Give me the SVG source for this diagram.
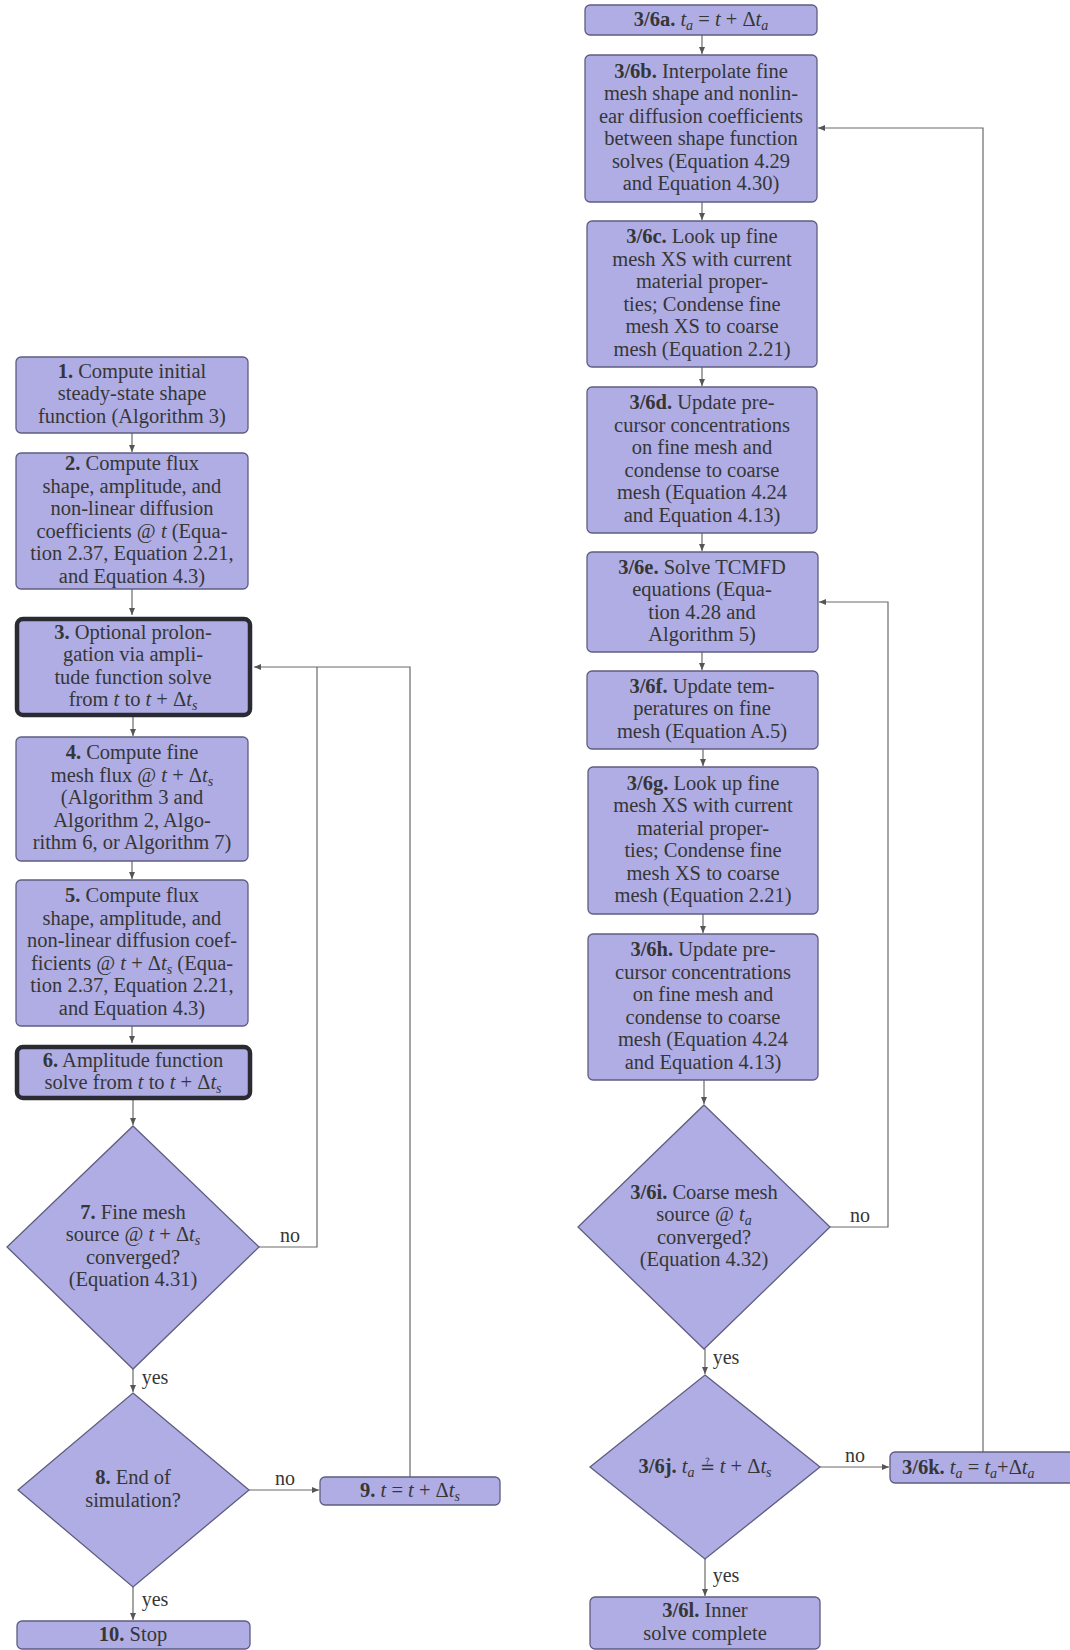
<svg xmlns="http://www.w3.org/2000/svg" width="1070" height="1650" viewBox="0 0 1070 1650">
<defs>
<style>
.box{fill:#afade4;stroke:#5e5d80;stroke-width:1.3}
.thick{fill:#afade4;stroke:#2a2a33;stroke-width:4.5}
.t{font-family:"Liberation Serif","Times New Roman",serif;font-size:20.5px;fill:#363636;text-anchor:middle}
.ts{font-family:"Liberation Serif","Times New Roman",serif;font-size:20.5px;fill:#363636;text-anchor:start}
.lbl{font-family:"Liberation Serif","Times New Roman",serif;font-size:20px;fill:#363636;text-anchor:middle}
.b{font-weight:bold}
.i{font-style:italic}
.s{font-style:italic;font-size:14px}
.qe{font-family:"DejaVu Serif","Liberation Serif",serif;font-size:18px}
.c{fill:none;stroke:#6a6a6a;stroke-width:1.2}
.a{marker-end:url(#ah)}
</style>
<marker id="ah" markerWidth="8" markerHeight="6" refX="7" refY="3" orient="auto" markerUnits="userSpaceOnUse">
<path d="M0,0 L7,3 L0,6 z" fill="#555"/>
</marker>
</defs>
<rect x="0" y="0" width="1070" height="1650" fill="#ffffff"/>

<g id="connectors">
<path class="c a" d="M132,433 V452"/>
<path class="c a" d="M132,589 V615"/>
<path class="c a" d="M133,717 V736"/>
<path class="c a" d="M132,861 V879"/>
<path class="c a" d="M132,1026 V1043"/>
<path class="c a" d="M133,1100 V1125"/>
<path class="c a" d="M133,1369 V1392"/>
<path class="c a" d="M133,1587 V1620"/>
<path class="c" d="M259,1247 H317 V667"/>
<path class="c a" d="M249,1490 H319"/>
<path class="c a" d="M410,1477 V667 H254"/>
<path class="c a" d="M702,35 V54"/>
<path class="c a" d="M702,202 V220"/>
<path class="c a" d="M702,367 V386"/>
<path class="c a" d="M702,533 V551"/>
<path class="c a" d="M702,652 V670"/>
<path class="c a" d="M703,749 V766"/>
<path class="c a" d="M703,914 V933"/>
<path class="c a" d="M704,1080 V1104"/>
<path class="c a" d="M705,1349 V1374"/>
<path class="c a" d="M705,1559 V1596"/>
<path class="c a" d="M830,1227 H888 V602 H819"/>
<path class="c a" d="M820,1467 H889"/>
<path class="c a" d="M983,1452 V128 H818"/>
<text class="lbl" x="290" y="1242">no</text>
<text class="lbl" x="285" y="1485">no</text>
<text class="lbl" x="860" y="1222">no</text>
<text class="lbl" x="855" y="1462">no</text>
<text class="lbl" x="155" y="1384">yes</text>
<text class="lbl" x="155" y="1606">yes</text>
<text class="lbl" x="726" y="1364">yes</text>
<text class="lbl" x="726" y="1582">yes</text>
</g>

<g id="n1">
<rect class="box" x="16" y="357" width="232" height="76" rx="5"/>
<text class="t" x="132" y="377.5"><tspan class="b">1.</tspan> Compute initial</text>
<text class="t" x="132" y="400">steady-state shape</text>
<text class="t" x="132" y="422.5">function (Algorithm 3)</text>
</g>

<g id="n2">
<rect class="box" x="16" y="453" width="232" height="136" rx="5"/>
<text class="t" x="132" y="470"><tspan class="b">2.</tspan> Compute flux</text>
<text class="t" x="132" y="492.5">shape, amplitude, and</text>
<text class="t" x="132" y="515">non-linear diffusion</text>
<text class="t" x="132" y="537.5">coefficients @ <tspan class="i">t</tspan> (Equa-</text>
<text class="t" x="132" y="560">tion 2.37, Equation 2.21,</text>
<text class="t" x="132" y="582.5">and Equation 4.3)</text>
</g>

<g id="n3">
<rect class="thick" x="17" y="619" width="233" height="96" rx="6"/>
<text class="t" x="133" y="638.5"><tspan class="b">3.</tspan> Optional prolon-</text>
<text class="t" x="133" y="661">gation via ampli-</text>
<text class="t" x="133" y="683.5">tude function solve</text>
<text class="t" x="133" y="706">from <tspan class="i">t</tspan> to <tspan class="i">t</tspan> + Δ<tspan class="i">t</tspan><tspan class="s" dy="4">s</tspan></text>
</g>

<g id="n4">
<rect class="box" x="16" y="737" width="232" height="124" rx="5"/>
<text class="t" x="132" y="759"><tspan class="b">4.</tspan> Compute fine</text>
<text class="t" x="132" y="781.5">mesh flux @ <tspan class="i">t</tspan> + Δ<tspan class="i">t</tspan><tspan class="s" dy="4">s</tspan></text>
<text class="t" x="132" y="804">(Algorithm 3 and</text>
<text class="t" x="132" y="826.5">Algorithm 2, Algo-</text>
<text class="t" x="132" y="849">rithm 6, or Algorithm 7)</text>
</g>

<g id="n5">
<rect class="box" x="16" y="880" width="232" height="146" rx="5"/>
<text class="t" x="132" y="902"><tspan class="b">5.</tspan> Compute flux</text>
<text class="t" x="132" y="924.5">shape, amplitude, and</text>
<text class="t" x="132" y="947">non-linear diffusion coef-</text>
<text class="t" x="132" y="969.5">ficients @ <tspan class="i">t</tspan> + Δ<tspan class="i">t</tspan><tspan class="s" dy="4">s</tspan><tspan dy="-4"> (Equa-</tspan></text>
<text class="t" x="132" y="992">tion 2.37, Equation 2.21,</text>
<text class="t" x="132" y="1014.5">and Equation 4.3)</text>
</g>

<g id="n6">
<rect class="thick" x="17" y="1047" width="233" height="51" rx="6"/>
<text class="t" x="133" y="1066.5"><tspan class="b">6.</tspan> Amplitude function</text>
<text class="t" x="133" y="1089">solve from <tspan class="i">t</tspan> to <tspan class="i">t</tspan> + Δ<tspan class="i">t</tspan><tspan class="s" dy="4">s</tspan></text>
</g>

<g id="n7">
<polygon class="box" points="133,1126 259,1247 133,1369 7,1247"/>
<text class="t" x="133" y="1218.5"><tspan class="b">7.</tspan> Fine mesh</text>
<text class="t" x="133" y="1241">source @ <tspan class="i">t</tspan> + Δ<tspan class="i">t</tspan><tspan class="s" dy="4">s</tspan></text>
<text class="t" x="133" y="1263.5">converged?</text>
<text class="t" x="133" y="1286">(Equation 4.31)</text>
</g>

<g id="n8">
<polygon class="box" points="133,1393 249,1490 133,1587 18,1490"/>
<text class="t" x="133" y="1484"><tspan class="b">8.</tspan> End of</text>
<text class="t" x="133" y="1506.5">simulation?</text>
</g>

<g id="n9">
<rect class="box" x="320" y="1477" width="180" height="28" rx="5"/>
<text class="t" x="410" y="1497"><tspan class="b">9.</tspan> <tspan class="i">t</tspan> = <tspan class="i">t</tspan> + Δ<tspan class="i">t</tspan><tspan class="s" dy="4">s</tspan></text>
</g>

<g id="n10">
<rect class="box" x="17" y="1621" width="233" height="28" rx="5"/>
<text class="t" x="133" y="1641"><tspan class="b">10.</tspan> Stop</text>
</g>

<g id="n3a">
<rect class="box" x="585" y="5" width="232" height="30" rx="5"/>
<text class="t" x="701" y="26"><tspan class="b">3/6a.</tspan> <tspan class="i">t</tspan><tspan class="s" dy="4">a</tspan><tspan dy="-4"> = </tspan><tspan class="i">t</tspan> + Δ<tspan class="i">t</tspan><tspan class="s" dy="4">a</tspan></text>
</g>

<g id="n3b">
<rect class="box" x="585" y="55" width="232" height="147" rx="5"/>
<text class="t" x="701" y="77.5"><tspan class="b">3/6b.</tspan> Interpolate fine</text>
<text class="t" x="701" y="100">mesh shape and nonlin-</text>
<text class="t" x="701" y="122.5">ear diffusion coefficients</text>
<text class="t" x="701" y="145">between shape function</text>
<text class="t" x="701" y="167.5">solves (Equation 4.29</text>
<text class="t" x="701" y="190">and Equation 4.30)</text>
</g>

<g id="n3c">
<rect class="box" x="587" y="221" width="230" height="146" rx="5"/>
<text class="t" x="702" y="243"><tspan class="b">3/6c.</tspan> Look up fine</text>
<text class="t" x="702" y="265.5">mesh XS with current</text>
<text class="t" x="702" y="288">material proper-</text>
<text class="t" x="702" y="310.5">ties; Condense fine</text>
<text class="t" x="702" y="333">mesh XS to coarse</text>
<text class="t" x="702" y="355.5">mesh (Equation 2.21)</text>
</g>

<g id="n3d">
<rect class="box" x="587" y="387" width="230" height="146" rx="5"/>
<text class="t" x="702" y="409"><tspan class="b">3/6d.</tspan> Update pre-</text>
<text class="t" x="702" y="431.5">cursor concentrations</text>
<text class="t" x="702" y="454">on fine mesh and</text>
<text class="t" x="702" y="476.5">condense to coarse</text>
<text class="t" x="702" y="499">mesh (Equation 4.24</text>
<text class="t" x="702" y="521.5">and Equation 4.13)</text>
</g>

<g id="n3e">
<rect class="box" x="587" y="552" width="231" height="100" rx="5"/>
<text class="t" x="702" y="573.5"><tspan class="b">3/6e.</tspan> Solve TCMFD</text>
<text class="t" x="702" y="596">equations (Equa-</text>
<text class="t" x="702" y="618.5">tion 4.28 and</text>
<text class="t" x="702" y="641">Algorithm 5)</text>
</g>

<g id="n3f">
<rect class="box" x="587" y="671" width="231" height="78" rx="5"/>
<text class="t" x="702" y="692.5"><tspan class="b">3/6f.</tspan> Update tem-</text>
<text class="t" x="702" y="715">peratures on fine</text>
<text class="t" x="702" y="737.5">mesh (Equation A.5)</text>
</g>

<g id="n3g">
<rect class="box" x="588" y="767" width="230" height="147" rx="5"/>
<text class="t" x="703" y="789.5"><tspan class="b">3/6g.</tspan> Look up fine</text>
<text class="t" x="703" y="812">mesh XS with current</text>
<text class="t" x="703" y="834.5">material proper-</text>
<text class="t" x="703" y="857">ties; Condense fine</text>
<text class="t" x="703" y="879.5">mesh XS to coarse</text>
<text class="t" x="703" y="902">mesh (Equation 2.21)</text>
</g>

<g id="n3h">
<rect class="box" x="588" y="934" width="230" height="146" rx="5"/>
<text class="t" x="703" y="956"><tspan class="b">3/6h.</tspan> Update pre-</text>
<text class="t" x="703" y="978.5">cursor concentrations</text>
<text class="t" x="703" y="1001">on fine mesh and</text>
<text class="t" x="703" y="1023.5">condense to coarse</text>
<text class="t" x="703" y="1046">mesh (Equation 4.24</text>
<text class="t" x="703" y="1068.5">and Equation 4.13)</text>
</g>

<g id="n3i">
<polygon class="box" points="704,1105 830,1227 704,1349 578,1227"/>
<text class="t" x="704" y="1198.5"><tspan class="b">3/6i.</tspan> Coarse mesh</text>
<text class="t" x="704" y="1221">source @ <tspan class="i">t</tspan><tspan class="s" dy="4">a</tspan></text>
<text class="t" x="704" y="1243.5">converged?</text>
<text class="t" x="704" y="1266">(Equation 4.32)</text>
</g>

<g id="n3j">
<polygon class="box" points="705,1375 820,1467 705,1559 590,1467"/>
<text class="t" x="705" y="1473"><tspan class="b">3/6j.</tspan> <tspan class="i">t</tspan><tspan class="s" dy="4">a</tspan><tspan dy="-4"> </tspan><tspan class="qe">≟</tspan> <tspan class="i">t</tspan> + Δ<tspan class="i">t</tspan><tspan class="s" dy="4">s</tspan></text>
</g>

<g id="n3k">
<rect class="box" x="890" y="1452" width="190" height="31" rx="5"/>
<text class="ts" x="902" y="1474"><tspan class="b">3/6k.</tspan> <tspan class="i">t</tspan><tspan class="s" dy="4">a</tspan><tspan dy="-4"> = </tspan><tspan class="i">t</tspan><tspan class="s" dy="4">a</tspan><tspan dy="-4">+Δ</tspan><tspan class="i">t</tspan><tspan class="s" dy="4">a</tspan></text>
</g>

<g id="n3l">
<rect class="box" x="590" y="1597" width="230" height="52" rx="5"/>
<text class="t" x="705" y="1617"><tspan class="b">3/6l.</tspan> Inner</text>
<text class="t" x="705" y="1639.5">solve complete</text>
</g>
</svg>
